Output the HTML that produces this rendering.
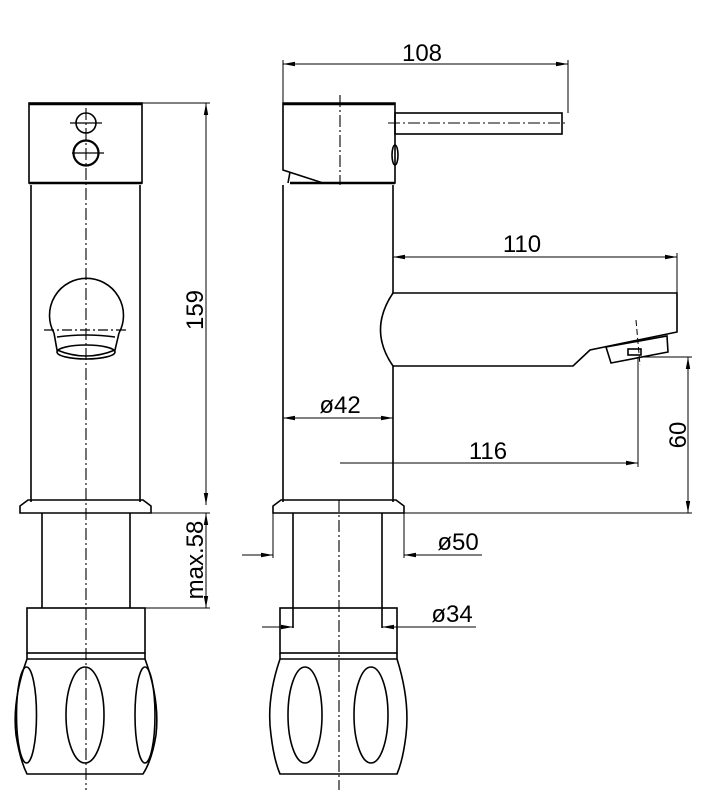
<!DOCTYPE html>
<html><head><style>html,body{margin:0;padding:0;background:#fff}svg{display:block}</style></head>
<body>
<svg width="705" height="800" viewBox="0 0 705 800" xmlns="http://www.w3.org/2000/svg" font-family="Liberation Sans, sans-serif">
<defs>
<marker id="a" viewBox="0 0 12 6" refX="12" refY="3" markerWidth="12" markerHeight="6" orient="auto-start-reverse" markerUnits="userSpaceOnUse"><path d="M0,0.8 L12,3 L0,5.2z" fill="#000"/></marker>
</defs>
<g fill="none" stroke="#000" stroke-width="1.6">
<!-- LEFT VIEW -->
<rect x="29" y="103" width="113" height="80"/>
<line x1="29" y1="104" x2="142" y2="104" stroke-width="2.5"/>
<line x1="29" y1="183" x2="142" y2="183" stroke-width="2.5"/>
<line x1="31" y1="185" x2="31" y2="502"/>
<line x1="140" y1="185" x2="140" y2="502"/>
<circle cx="86" cy="123" r="10"/>
<circle cx="86" cy="153" r="12.5" stroke-width="2.2"/>
<line x1="70" y1="123" x2="102" y2="123" stroke-width="1.2"/>
<line x1="72" y1="153" x2="104" y2="153" stroke-width="1.2"/>
<path d="M54,333 A37,37 0 1 1 119,333"/>
<path d="M54,333 L57,350 Q86,362 115,350 L119,333"/>
<path d="M57,337 Q86,333 115,337"/>
<ellipse cx="86" cy="352" rx="29" ry="7"/>
<line x1="44" y1="330" x2="128" y2="330" stroke-width="1.2" stroke-dasharray="10,3,2,3"/>
<path d="M28,500 L143,500 L151,506 L151,513 L20,513 L20,506z"/>
<line x1="42" y1="513" x2="42" y2="608"/>
<line x1="130" y1="513" x2="130" y2="608"/>
<rect x="27" y="608" width="118" height="45"/>
<line x1="27" y1="659" x2="145" y2="659"/>
<path d="M27,653 L27,659 Q12,700 16,735 Q20,760 27,774 L143,774 Q152,760 156,735 Q160,700 145,659 L145,653"/>
<ellipse cx="26.5" cy="715" rx="10" ry="48"/>
<ellipse cx="85" cy="715" rx="19" ry="48"/>
<ellipse cx="145" cy="715" rx="10" ry="48"/>
<line x1="86" y1="108" x2="86" y2="790" stroke-width="1.1" stroke-dasharray="12,3,2,3"/>
<!-- dims left -->
<line x1="142" y1="103" x2="210" y2="103" stroke-width="1"/>
<line x1="151" y1="513" x2="210" y2="513" stroke-width="1"/>
<line x1="145" y1="608" x2="210" y2="608" stroke-width="1"/>
<line x1="206" y1="103" x2="206" y2="505" stroke-width="1" marker-start="url(#a)" marker-end="url(#a)"/>
<line x1="206" y1="513" x2="206" y2="608" stroke-width="1" marker-start="url(#a)" marker-end="url(#a)"/>
<!-- RIGHT VIEW -->
<path d="M283,103 L395,103 L395,183 L323,183 L283,170z"/>
<line x1="283" y1="104" x2="395" y2="104" stroke-width="2.5"/>
<line x1="290" y1="183" x2="395" y2="183" stroke-width="2.5"/>
<line x1="290" y1="172" x2="288" y2="183"/>
<rect x="395" y="113" width="167" height="21"/>
<ellipse cx="395" cy="155" rx="3" ry="10"/>
<line x1="388" y1="123" x2="568" y2="123" stroke-width="1.1" stroke-dasharray="12,3,2,3"/>
<line x1="283" y1="185" x2="283" y2="502"/>
<line x1="393" y1="185" x2="393" y2="293"/>
<line x1="393" y1="365" x2="393" y2="502"/>
<path d="M393,293 L677,293 L677,332 L590,350 L573,366 L393,366 Q368,330 393,293z"/>
<path d="M606,347 L667,336 L668,352 L611,363z"/>
<rect x="628" y="349" width="13" height="6"/>
<line x1="636" y1="320" x2="640" y2="365" stroke-width="1" stroke-dasharray="6,3"/>
<path d="M281,500 L396,500 L404,506 L404,513 L273,513 L273,506z"/>
<line x1="293" y1="513" x2="293" y2="628"/>
<line x1="382" y1="513" x2="382" y2="628"/>
<rect x="280" y="608" width="117" height="45"/>
<line x1="280" y1="659" x2="397" y2="659"/>
<path d="M280,653 L280,659 Q266,700 271,735 Q274,760 280,774 L397,774 Q403,760 406,735 Q410,700 397,659 L397,653"/>
<ellipse cx="305" cy="715" rx="17" ry="48"/>
<ellipse cx="371" cy="715" rx="17" ry="48"/>
<line x1="340" y1="95" x2="340" y2="185" stroke-width="1.1" stroke-dasharray="12,3,2,3"/>
<line x1="339" y1="500" x2="339" y2="790" stroke-width="1.1" stroke-dasharray="12,3,2,3"/>
<!-- dims right -->
<g stroke-width="1">
<line x1="283" y1="60" x2="283" y2="103"/>
<line x1="568" y1="60" x2="568" y2="113"/>
<line x1="283" y1="64" x2="568" y2="64" marker-start="url(#a)" marker-end="url(#a)"/>
<line x1="677" y1="253" x2="677" y2="293"/>
<line x1="393" y1="257" x2="677" y2="257" marker-start="url(#a)" marker-end="url(#a)"/>
<line x1="283" y1="418" x2="393" y2="418" marker-start="url(#a)" marker-end="url(#a)"/>
<line x1="638" y1="357" x2="638" y2="467"/>
<line x1="340" y1="463" x2="638" y2="463" marker-end="url(#a)"/>
<line x1="640" y1="357" x2="692" y2="357"/>
<line x1="404" y1="513" x2="692" y2="513"/>
<line x1="688" y1="357" x2="688" y2="513" marker-start="url(#a)" marker-end="url(#a)"/>
<line x1="242" y1="555" x2="273" y2="555" marker-end="url(#a)"/>
<line x1="482" y1="555" x2="404" y2="555" marker-end="url(#a)"/>
<line x1="262" y1="627" x2="293" y2="627" marker-end="url(#a)"/>
<line x1="476" y1="627" x2="382" y2="627" marker-end="url(#a)"/>
<line x1="273" y1="513" x2="273" y2="558"/>
<line x1="404" y1="513" x2="404" y2="558"/>
</g>
</g>
<g font-size="24" fill="#000">
<text x="422" y="61" text-anchor="middle">108</text>
<text x="522" y="252" text-anchor="middle">110</text>
<text x="340" y="413" text-anchor="middle">ø42</text>
<text x="488" y="459" text-anchor="middle">116</text>
<text x="458" y="550" text-anchor="middle">ø50</text>
<text x="452" y="622" text-anchor="middle">ø34</text>
<text transform="translate(203,310) rotate(-90)" text-anchor="middle">159</text>
<text transform="translate(203,560) rotate(-90)" text-anchor="middle">max.58</text>
<text transform="translate(686,435) rotate(-90)" text-anchor="middle">60</text>
</g>
</svg>
</body></html>
